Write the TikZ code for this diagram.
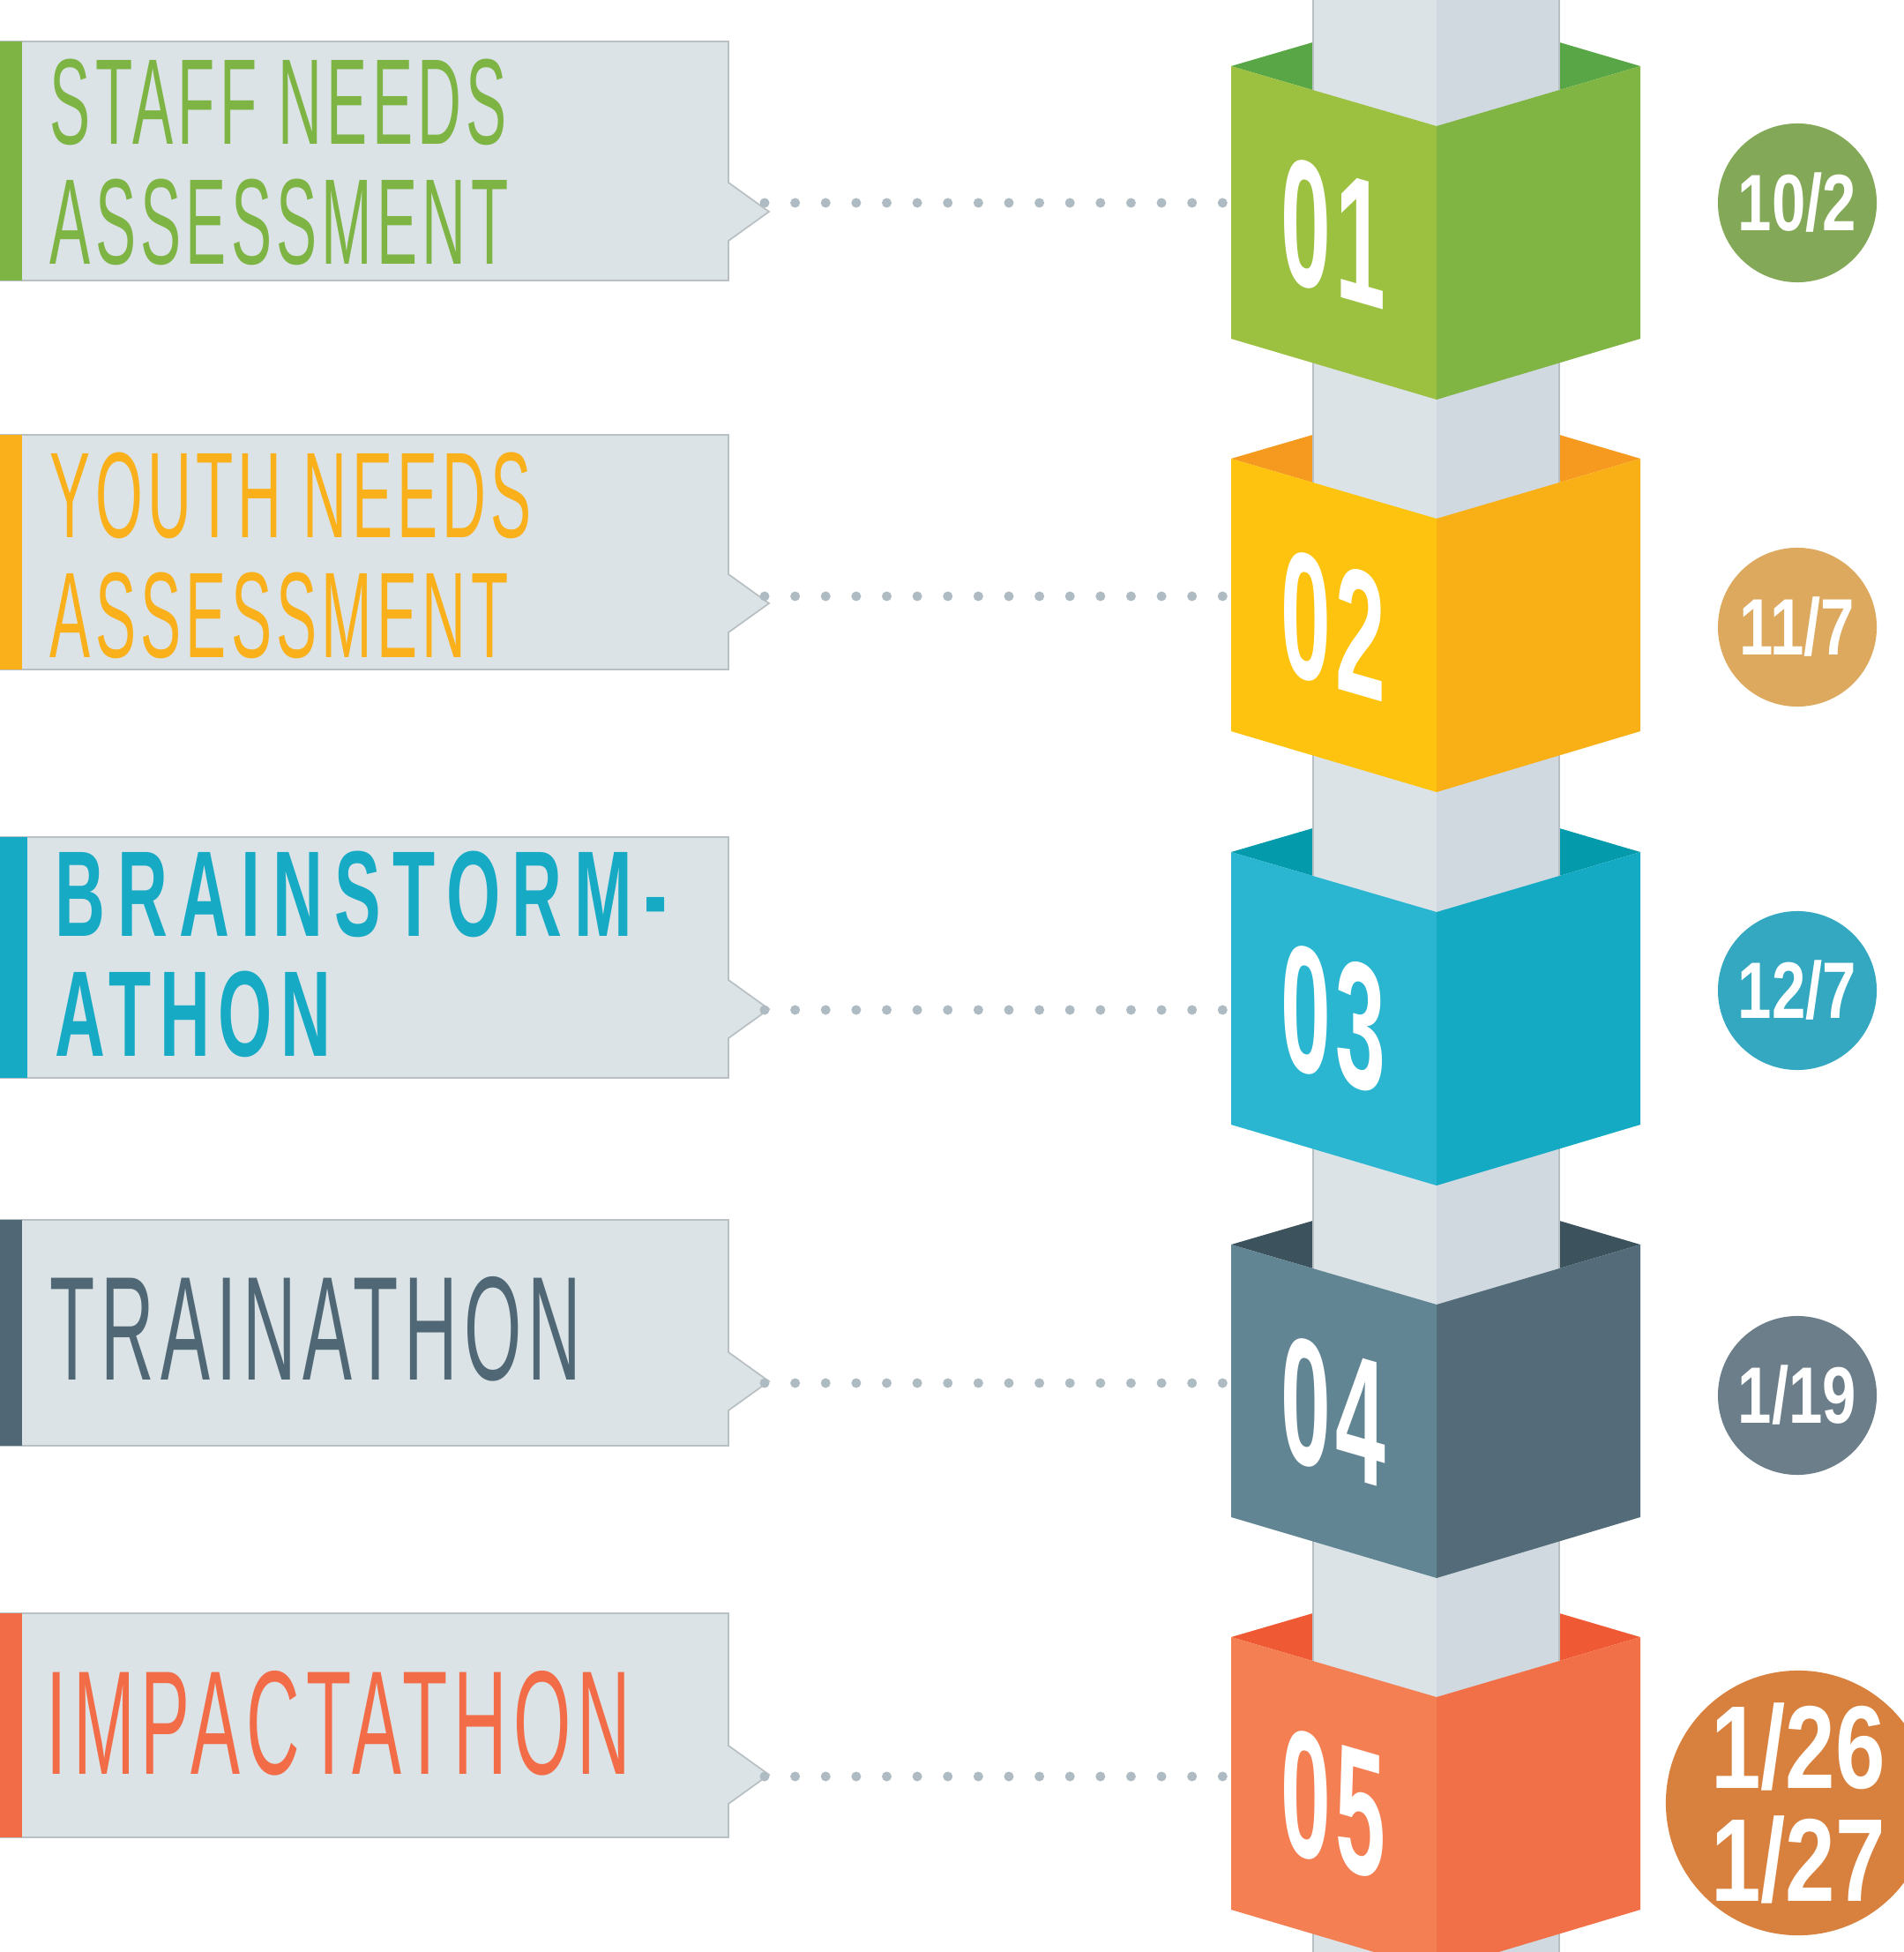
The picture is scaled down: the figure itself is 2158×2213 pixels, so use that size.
\documentclass[tikz,border=0pt]{standalone}
\usepackage{fontspec}
\setmainfont{Liberation Sans}
\newfontfamily\labelfont[FakeStretch=0.5, LetterSpace=3.8]{Liberation Sans}
\newfontfamily\widefont[FakeStretch=0.57]{Liberation Sans}
\newfontfamily\numfont[FakeStretch=0.5, LetterSpace=3]{Liberation Sans}
\newfontfamily\datefont[FakeStretch=0.76]{Liberation Sans}
\usetikzlibrary{arrows}

\definecolor{boxgray}{HTML}{DBE3E7}
\definecolor{boxline}{HTML}{B9C0C4}
\definecolor{pillarL}{HTML}{DBE3E7}
\definecolor{pillarR}{HTML}{D0D9DF}
\definecolor{dotgray}{HTML}{AEBBC3}
\definecolor{greenA}{HTML}{7DB443}
\definecolor{greenL}{HTML}{9CC03F}
\definecolor{greenR}{HTML}{80B443}
\definecolor{greenB}{HTML}{59A646}
\definecolor{greenC}{HTML}{83A857}
\definecolor{yellowA}{HTML}{F9B01A}
\definecolor{yellowL}{HTML}{FDC30F}
\definecolor{yellowR}{HTML}{F9B017}
\definecolor{yellowB}{HTML}{F6991F}
\definecolor{yellowC}{HTML}{DCA95F}
\definecolor{tealA}{HTML}{16AAC4}
\definecolor{tealL}{HTML}{2AB5D1}
\definecolor{tealR}{HTML}{14AAC3}
\definecolor{tealB}{HTML}{039AAB}
\definecolor{tealC}{HTML}{34A8C1}
\definecolor{slateA}{HTML}{506875}
\definecolor{slateL}{HTML}{628594}
\definecolor{slateR}{HTML}{546C7A}
\definecolor{slateB}{HTML}{3C535D}
\definecolor{slateC}{HTML}{6B7E89}
\definecolor{orangeA}{HTML}{F26C47}
\definecolor{orangeL}{HTML}{F37F53}
\definecolor{orangeR}{HTML}{F27048}
\definecolor{orangeB}{HTML}{EF5A35}
\definecolor{orangeC}{HTML}{D8813E}

% label tab: top, bottom, notch top, colour, bar width
\newcommand{\labeltab}[5]{%
\filldraw[tabbox] (0,#1) -- (826,#1) -- (826,#3) -- (872,#3+33) -- (826,#3+66) -- (826,#2) -- (0,#2) -- cycle;
\fill[#4] (0,#1) rectangle (#5,#2);}
% inside of a block: top of outer corners, colour
\newcommand{\blockback}[2]{%
\fill[#2] (1396,#1) -- (1629,#1-68) -- (1860,#1) -- (1629,#1+68) -- cycle;}
% front of a block: top of outer corners, left colour, right colour
\newcommand{\blockfront}[3]{%
\fill[#2] (1396,#1) -- (1629,#1+68) -- (1629,#1+378) -- (1396,#1+309) -- cycle;
\fill[#3] (1629,#1+68) -- (1860,#1) -- (1860,#1+309) -- (1629,#1+378) -- cycle;}

\begin{document}
\begin{tikzpicture}[x=0.01cm, y=-0.01cm,
  tabbox/.style={fill=boxgray, draw=boxline, line width=0.5pt},
  lbltext/.style={anchor=north west, inner sep=0pt, align=left, font=\labelfont\fontsize{39.3}{38.7}\selectfont},
  biglbl/.style={anchor=north west, inner sep=0pt, font=\labelfont\addfontfeature{LetterSpace=4.2}\fontsize{47.7}{48}\selectfont},
  bignum/.style={text=white, inner sep=0pt, yslant=-0.29, font=\numfont\bfseries\fontsize{58}{58}\selectfont},
  datecircle/.style={circle, text=white, inner sep=0pt, minimum size=1.8cm, font=\datefont\bfseries\fontsize{25.8}{26}\selectfont},
  dotline/.style={draw=dotgray, line width=0.11cm, line cap=round, dash pattern=on 0pt off 0.346cm}]
\useasboundingbox (0,0) rectangle (2158,2213);

% label tabs
\labeltab{47}{318}{207}{greenA}{25}
\labeltab{493}{759}{651}{yellowA}{25}
\labeltab{949}{1222}{1111}{tealA}{31}
\labeltab{1383}{1639}{1533}{slateA}{25}
\labeltab{1829}{2083}{1979}{orangeA}{25}

\node[lbltext, text=greenA] (l1) at (56,66) {STAFF NEEDS\\ASSESSMENT};
\node[lbltext, text=yellowA] (l2) at (56,512) {YOUTH NEEDS\\ASSESSMENT};
\node[lbltext, text=tealA, font=\widefont\bfseries\fontsize{39.3}{38.7}\selectfont] (l3) at (62,964)
  {{\addfontfeature{LetterSpace=9.8}BRAINSTORM-}\\{\addfontfeature{LetterSpace=7}ATHON}};
\node[biglbl, text=slateA] (l4) at (56,1447) {TRAINATHON};
\node[biglbl, text=orangeA] (l5) at (52,1894) {IMPACTATHON};

% blocks on the pillar
\blockback{75}{greenB}
\blockback{520}{yellowB}
\blockback{966}{tealB}
\blockback{1411}{slateB}
\blockback{1856}{orangeB}
\fill[pillarL] (1489,0) rectangle (1629,2213);
\fill[pillarR] (1629,0) rectangle (1768,2213);
\draw[boxline, line width=0.5pt] (1489,0) -- (1489,2213) (1768,0) -- (1768,2213);
\blockfront{75}{greenL}{greenR}
\blockfront{520}{yellowL}{yellowR}
\blockfront{966}{tealL}{tealR}
\blockfront{1411}{slateL}{slateR}
\blockfront{1856}{orangeL}{orangeR}

\node[bignum] (n1) at (1512,264) {01};
\node[bignum] (n2) at (1512,709) {02};
\node[bignum] (n3) at (1512,1155) {03};
\node[bignum] (n4) at (1512,1600) {04};
\node[bignum] (n5) at (1512,2045) {05};

% dates
\node[datecircle, fill=greenC] (d1) at (2038,230) {10/2};
\node[datecircle, fill=yellowC] (d2) at (2038,711) {11/7};
\node[datecircle, fill=tealC] (d3) at (2038,1123) {12/7};
\node[datecircle, fill=slateC] (d4) at (2038,1582) {1/19};
\node[datecircle, fill=orangeC, minimum size=2.96cm, align=center,
  font=\datefont\bfseries\fontsize{38}{36.4}\selectfont] (d5) at (2039,2044) {1/26\\1/27};

\coordinate (s1) at (867,230);
\coordinate (e1) at (1388,230);
\coordinate (s2) at (867,676);
\coordinate (e2) at (1388,676);
\coordinate (s3) at (867,1145);
\coordinate (e3) at (1388,1145);
\coordinate (s4) at (867,1568);
\coordinate (e4) at (1388,1568);
\coordinate (s5) at (867,2014);
\coordinate (e5) at (1388,2014);

\path[]
(s1) edge[dotline] (e1)
(s2) edge[dotline] (e2)
(s3) edge[dotline] (e3)
(s4) edge[dotline] (e4)
(s5) edge[dotline] (e5)
;
\end{tikzpicture}
\end{document}
